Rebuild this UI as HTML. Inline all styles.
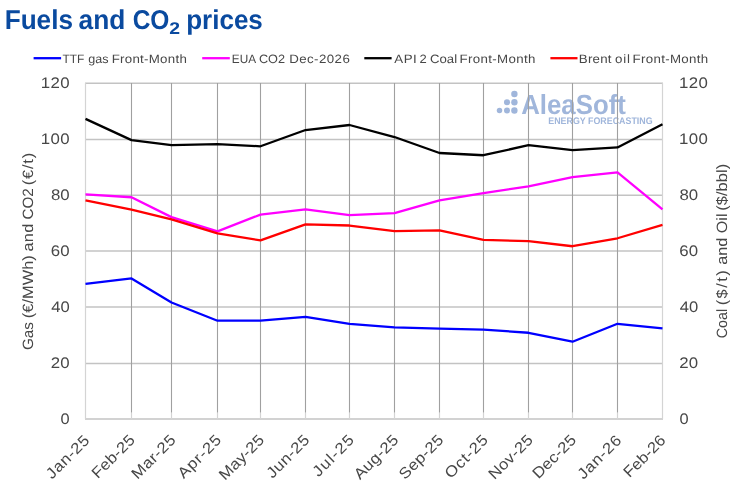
<!DOCTYPE html>
<html><head><meta charset="utf-8"><title>Fuels and CO2 prices</title>
<style>html,body{margin:0;padding:0;background:#fff}</style></head>
<body>
<svg width="730" height="491" viewBox="0 0 730 491" style="display:block;will-change:transform" text-rendering="geometricPrecision">
<rect width="730" height="491" fill="#fff"/>
<circle cx="514.4" cy="94.0" r="3.2" fill="#a0b6db"/>
<circle cx="507" cy="102.2" r="3.05" fill="#a0b6db"/>
<circle cx="514.4" cy="102.2" r="3.2" fill="#a0b6db"/>
<circle cx="499.5" cy="110.5" r="2.75" fill="#a0b6db"/>
<circle cx="507" cy="110.5" r="3.0" fill="#a0b6db"/>
<circle cx="514.4" cy="110.5" r="3.2" fill="#a0b6db"/>
<text transform="translate(521.20,114.40) scale(0.9346,1)" font-family="'Liberation Sans', sans-serif" font-weight="700" font-size="27.6" fill="#a0b6db">AleaSoft</text>
<text transform="translate(548.25,124.10) scale(0.9249,1)" font-family="'Liberation Sans', sans-serif" font-weight="700" font-size="9.6" fill="#a0b6db">ENERGY FORECASTING</text>
<line x1="85.0" x2="663.0" y1="419.10" y2="419.10" stroke="#c3c3c3" stroke-width="1.5"/>
<line x1="85.0" x2="663.0" y1="363.40" y2="363.40" stroke="#c3c3c3" stroke-width="1.5"/>
<line x1="85.0" x2="663.0" y1="307.05" y2="307.05" stroke="#c3c3c3" stroke-width="1.5"/>
<line x1="85.0" x2="663.0" y1="251.05" y2="251.05" stroke="#c3c3c3" stroke-width="1.5"/>
<line x1="85.0" x2="663.0" y1="195.30" y2="195.30" stroke="#c3c3c3" stroke-width="1.5"/>
<line x1="85.0" x2="663.0" y1="139.50" y2="139.50" stroke="#c3c3c3" stroke-width="1.5"/>
<line x1="85.0" x2="663.0" y1="83.30" y2="83.30" stroke="#c3c3c3" stroke-width="1.5"/>
<line x1="85.5" x2="85.5" y1="83.0" y2="419.0" stroke="#d4d4d4" stroke-width="1.2"/>
<line x1="131.5" x2="131.5" y1="83.0" y2="412.7" stroke="#a0a0a0" stroke-width="1.1"/>
<line x1="131.5" x2="131.5" y1="412.7" y2="419.0" stroke="#d4d4d4" stroke-width="1.2"/>
<line x1="171.5" x2="171.5" y1="83.0" y2="412.7" stroke="#a0a0a0" stroke-width="1.1"/>
<line x1="171.5" x2="171.5" y1="412.7" y2="419.0" stroke="#d4d4d4" stroke-width="1.2"/>
<line x1="217.5" x2="217.5" y1="83.0" y2="412.7" stroke="#a0a0a0" stroke-width="1.1"/>
<line x1="217.5" x2="217.5" y1="412.7" y2="419.0" stroke="#d4d4d4" stroke-width="1.2"/>
<line x1="260.5" x2="260.5" y1="83.0" y2="412.7" stroke="#a0a0a0" stroke-width="1.1"/>
<line x1="260.5" x2="260.5" y1="412.7" y2="419.0" stroke="#d4d4d4" stroke-width="1.2"/>
<line x1="305.5" x2="305.5" y1="83.0" y2="412.7" stroke="#a0a0a0" stroke-width="1.1"/>
<line x1="305.5" x2="305.5" y1="412.7" y2="419.0" stroke="#d4d4d4" stroke-width="1.2"/>
<line x1="349.5" x2="349.5" y1="83.0" y2="412.7" stroke="#a0a0a0" stroke-width="1.1"/>
<line x1="349.5" x2="349.5" y1="412.7" y2="419.0" stroke="#d4d4d4" stroke-width="1.2"/>
<line x1="394.5" x2="394.5" y1="83.0" y2="412.7" stroke="#a0a0a0" stroke-width="1.1"/>
<line x1="394.5" x2="394.5" y1="412.7" y2="419.0" stroke="#d4d4d4" stroke-width="1.2"/>
<line x1="439.5" x2="439.5" y1="83.0" y2="412.7" stroke="#a0a0a0" stroke-width="1.1"/>
<line x1="439.5" x2="439.5" y1="412.7" y2="419.0" stroke="#d4d4d4" stroke-width="1.2"/>
<line x1="483.5" x2="483.5" y1="83.0" y2="412.7" stroke="#a0a0a0" stroke-width="1.1"/>
<line x1="483.5" x2="483.5" y1="412.7" y2="419.0" stroke="#d4d4d4" stroke-width="1.2"/>
<line x1="528.5" x2="528.5" y1="83.0" y2="412.7" stroke="#a0a0a0" stroke-width="1.1"/>
<line x1="528.5" x2="528.5" y1="412.7" y2="419.0" stroke="#d4d4d4" stroke-width="1.2"/>
<line x1="572.5" x2="572.5" y1="83.0" y2="412.7" stroke="#a0a0a0" stroke-width="1.1"/>
<line x1="572.5" x2="572.5" y1="412.7" y2="419.0" stroke="#d4d4d4" stroke-width="1.2"/>
<line x1="617.5" x2="617.5" y1="83.0" y2="412.7" stroke="#a0a0a0" stroke-width="1.1"/>
<line x1="617.5" x2="617.5" y1="412.7" y2="419.0" stroke="#d4d4d4" stroke-width="1.2"/>
<line x1="662.5" x2="662.5" y1="83.0" y2="419.0" stroke="#d4d4d4" stroke-width="1.2"/>
<polyline points="85.50,283.90 131.50,278.44 171.50,302.52 217.50,320.72 260.50,320.72 305.50,316.80 349.50,323.80 394.50,327.44 439.50,328.70 483.50,329.54 528.50,332.76 572.50,341.72 617.50,323.80 662.50,328.42" fill="none" stroke="#0000ff" stroke-width="2.3" stroke-linejoin="round" stroke-linecap="butt"/>
<polyline points="85.50,194.44 131.50,197.24 171.50,217.12 217.50,231.40 260.50,214.60 305.50,209.28 349.50,215.16 394.50,213.20 439.50,200.32 483.50,193.04 528.50,186.32 572.50,177.08 617.50,172.32 662.50,209.28" fill="none" stroke="#ff00ff" stroke-width="2.3" stroke-linejoin="round" stroke-linecap="butt"/>
<polyline points="85.50,118.84 131.50,140.12 171.50,145.16 217.50,144.04 260.50,146.28 305.50,130.04 349.50,125.00 394.50,137.04 439.50,153.00 483.50,155.24 528.50,145.16 572.50,150.20 617.50,147.40 662.50,124.16" fill="none" stroke="#000000" stroke-width="2.3" stroke-linejoin="round" stroke-linecap="butt"/>
<polyline points="85.50,200.32 131.50,209.56 171.50,219.36 217.50,233.36 260.50,240.36 305.50,224.40 349.50,225.52 394.50,231.12 439.50,230.28 483.50,239.94 528.50,241.20 572.50,246.24 617.50,238.26 662.50,224.96" fill="none" stroke="#ff0000" stroke-width="2.3" stroke-linejoin="round" stroke-linecap="butt"/>
<text transform="translate(4.67,28.70) scale(0.9578,1)" font-family="'Liberation Sans', sans-serif" font-weight="700" font-size="27.3" fill="#0a4a9f">Fuels</text>
<text transform="translate(78.59,28.70) scale(0.9642,1)" font-family="'Liberation Sans', sans-serif" font-weight="700" font-size="27.3" fill="#0a4a9f">and</text>
<text transform="translate(132.63,28.70) scale(0.8974,1)" font-family="'Liberation Sans', sans-serif" font-weight="700" font-size="27.3" fill="#0a4a9f">CO</text>
<text transform="translate(186.17,28.70) scale(0.9533,1)" font-family="'Liberation Sans', sans-serif" font-weight="700" font-size="27.3" fill="#0a4a9f">prices</text>
<text transform="translate(169.29,33.90) scale(1.1412,1)" font-family="'Liberation Sans', sans-serif" font-weight="700" font-size="17.0" fill="#0a4a9f">2</text>
<line x1="33.6" x2="61.1" y1="58.2" y2="58.2" stroke="#0000ff" stroke-width="2.3"/>
<text transform="translate(62.41,62.60) scale(0.9866,1)" font-family="'Liberation Sans', sans-serif" font-weight="400" font-size="12.1" fill="#474747">TTF</text>
<text transform="translate(88.31,62.60) scale(1.0399,1)" font-family="'Liberation Sans', sans-serif" font-weight="400" font-size="12.1" fill="#474747">gas</text>
<text transform="translate(111.66,62.60) scale(1.1000,1)" font-family="'Liberation Sans', sans-serif" font-weight="400" font-size="12.1" fill="#474747" letter-spacing="0.245">Front-Month</text>
<line x1="202.2" x2="229.8" y1="58.2" y2="58.2" stroke="#ff00ff" stroke-width="2.3"/>
<text transform="translate(231.78,62.60) scale(0.9753,1)" font-family="'Liberation Sans', sans-serif" font-weight="400" font-size="12.1" fill="#474747">EUA</text>
<text transform="translate(258.90,62.60) scale(1.0495,1)" font-family="'Liberation Sans', sans-serif" font-weight="400" font-size="12.1" fill="#474747">CO2</text>
<text transform="translate(289.16,62.60) scale(1.1000,1)" font-family="'Liberation Sans', sans-serif" font-weight="400" font-size="12.1" fill="#474747" letter-spacing="0.385">Dec-2026</text>
<line x1="364.3" x2="391.6" y1="58.2" y2="58.2" stroke="#000000" stroke-width="2.3"/>
<text transform="translate(394.30,62.60) scale(1.1000,1)" font-family="'Liberation Sans', sans-serif" font-weight="400" font-size="12.1" fill="#474747" letter-spacing="0.431">API</text>
<text transform="translate(419.49,62.60) scale(1.0755,1)" font-family="'Liberation Sans', sans-serif" font-weight="400" font-size="12.1" fill="#474747">2</text>
<text transform="translate(429.98,62.60) scale(1.0884,1)" font-family="'Liberation Sans', sans-serif" font-weight="400" font-size="12.1" fill="#474747">Coal</text>
<text transform="translate(459.56,62.60) scale(1.1000,1)" font-family="'Liberation Sans', sans-serif" font-weight="400" font-size="12.1" fill="#474747" letter-spacing="0.309">Front-Month</text>
<line x1="550.4" x2="577.5" y1="58.2" y2="58.2" stroke="#ff0000" stroke-width="2.3"/>
<text transform="translate(578.86,62.60) scale(1.1000,1)" font-family="'Liberation Sans', sans-serif" font-weight="400" font-size="12.1" fill="#474747" letter-spacing="0.178">Brent</text>
<text transform="translate(614.98,62.60) scale(1.1000,1)" font-family="'Liberation Sans', sans-serif" font-weight="400" font-size="12.1" fill="#474747" letter-spacing="0.717">oil</text>
<text transform="translate(632.56,62.60) scale(1.1000,1)" font-family="'Liberation Sans', sans-serif" font-weight="400" font-size="12.1" fill="#474747" letter-spacing="0.291">Front-Month</text>
<text transform="translate(60.54,424.00) scale(1.0719,1)" font-family="'Liberation Sans', sans-serif" font-weight="400" font-size="15.3" fill="#474747">0</text>
<text transform="translate(679.49,424.00) scale(1.0719,1)" font-family="'Liberation Sans', sans-serif" font-weight="400" font-size="15.3" fill="#474747">0</text>
<text transform="translate(50.66,368.00) scale(1.1000,1)" font-family="'Liberation Sans', sans-serif" font-weight="400" font-size="15.3" fill="#474747" letter-spacing="0.262">20</text>
<text transform="translate(679.21,368.00) scale(1.1000,1)" font-family="'Liberation Sans', sans-serif" font-weight="400" font-size="15.3" fill="#474747" letter-spacing="0.262">20</text>
<text transform="translate(51.19,312.00) scale(1.0855,1)" font-family="'Liberation Sans', sans-serif" font-weight="400" font-size="15.3" fill="#474747">40</text>
<text transform="translate(679.74,312.00) scale(1.0855,1)" font-family="'Liberation Sans', sans-serif" font-weight="400" font-size="15.3" fill="#474747">40</text>
<text transform="translate(50.66,256.00) scale(1.1000,1)" font-family="'Liberation Sans', sans-serif" font-weight="400" font-size="15.3" fill="#474747" letter-spacing="0.262">60</text>
<text transform="translate(679.21,256.00) scale(1.1000,1)" font-family="'Liberation Sans', sans-serif" font-weight="400" font-size="15.3" fill="#474747" letter-spacing="0.262">60</text>
<text transform="translate(50.92,200.00) scale(1.1000,1)" font-family="'Liberation Sans', sans-serif" font-weight="400" font-size="15.3" fill="#474747" letter-spacing="0.023">80</text>
<text transform="translate(679.47,200.00) scale(1.1000,1)" font-family="'Liberation Sans', sans-serif" font-weight="400" font-size="15.3" fill="#474747" letter-spacing="0.023">80</text>
<text transform="translate(40.80,144.00) scale(1.1000,1)" font-family="'Liberation Sans', sans-serif" font-weight="400" font-size="15.3" fill="#474747" letter-spacing="0.359">100</text>
<text transform="translate(678.95,144.00) scale(1.1000,1)" font-family="'Liberation Sans', sans-serif" font-weight="400" font-size="15.3" fill="#474747" letter-spacing="0.359">100</text>
<text transform="translate(40.80,88.00) scale(1.1000,1)" font-family="'Liberation Sans', sans-serif" font-weight="400" font-size="15.3" fill="#474747" letter-spacing="0.359">120</text>
<text transform="translate(678.95,88.00) scale(1.1000,1)" font-family="'Liberation Sans', sans-serif" font-weight="400" font-size="15.3" fill="#474747" letter-spacing="0.359">120</text>
<text transform="translate(33.00,349.40) rotate(-90) translate(-0.71,0) scale(1.0206,1)" font-family="'Liberation Sans', sans-serif" font-weight="400" font-size="14.9" fill="#474747">Gas</text>
<text transform="translate(33.00,349.40) rotate(-90) translate(31.23,0) scale(1.1000,1)" font-family="'Liberation Sans', sans-serif" font-weight="400" font-size="14.9" fill="#474747" letter-spacing="0.029">(€/MWh)</text>
<text transform="translate(33.00,349.40) rotate(-90) translate(97.89,0) scale(1.1000,1)" font-family="'Liberation Sans', sans-serif" font-weight="400" font-size="14.9" fill="#474747" letter-spacing="0.221">and</text>
<text transform="translate(33.00,349.40) rotate(-90) translate(129.89,0) scale(1.0227,1)" font-family="'Liberation Sans', sans-serif" font-weight="400" font-size="14.9" fill="#474747">CO2</text>
<text transform="translate(33.00,349.40) rotate(-90) translate(164.03,0) scale(1.1000,1)" font-family="'Liberation Sans', sans-serif" font-weight="400" font-size="14.9" fill="#474747" letter-spacing="0.790">(€/t)</text>
<text transform="translate(727.30,337.50) rotate(-90) translate(-0.67,0) scale(0.9564,1)" font-family="'Liberation Sans', sans-serif" font-weight="400" font-size="14.9" fill="#474747">Coal</text>
<text transform="translate(727.30,337.50) rotate(-90) translate(32.13,0) scale(1.1000,1)" font-family="'Liberation Sans', sans-serif" font-weight="400" font-size="14.9" fill="#474747" letter-spacing="1.359">($/t)</text>
<text transform="translate(727.30,337.50) rotate(-90) translate(72.69,0) scale(1.0909,1)" font-family="'Liberation Sans', sans-serif" font-weight="400" font-size="14.9" fill="#474747">and</text>
<text transform="translate(727.30,337.50) rotate(-90) translate(104.35,0) scale(1.0769,1)" font-family="'Liberation Sans', sans-serif" font-weight="400" font-size="14.9" fill="#474747">Oil</text>
<text transform="translate(727.30,337.50) rotate(-90) translate(126.63,0) scale(1.1000,1)" font-family="'Liberation Sans', sans-serif" font-weight="400" font-size="14.9" fill="#474747" letter-spacing="0.085">($/bbl)</text>
<text transform="translate(89.94,441.75) rotate(-45) translate(-53.60,0) scale(1.1000,1)" font-family="'Liberation Sans', sans-serif" font-weight="400" font-size="15.3" fill="#474747" letter-spacing="0.514">Jan-25</text>
<text transform="translate(135.43,441.43) rotate(-45) translate(-53.44,0) scale(1.1000,1)" font-family="'Liberation Sans', sans-serif" font-weight="400" font-size="15.3" fill="#474747" letter-spacing="0.145">Feb-25</text>
<text transform="translate(176.13,441.43) rotate(-45) translate(-54.56,0) scale(1.1000,1)" font-family="'Liberation Sans', sans-serif" font-weight="400" font-size="15.3" fill="#474747" letter-spacing="0.352">Mar-25</text>
<text transform="translate(221.71,441.43) rotate(-45) translate(-53.52,0) scale(1.1000,1)" font-family="'Liberation Sans', sans-serif" font-weight="400" font-size="15.3" fill="#474747" letter-spacing="0.670">Apr-25</text>
<text transform="translate(264.55,441.43) rotate(-45) translate(-55.79,0) scale(1.1000,1)" font-family="'Liberation Sans', sans-serif" font-weight="400" font-size="15.3" fill="#474747" letter-spacing="0.063">May-25</text>
<text transform="translate(309.94,441.43) rotate(-45) translate(-53.06,0) scale(1.1000,1)" font-family="'Liberation Sans', sans-serif" font-weight="400" font-size="15.3" fill="#474747" letter-spacing="0.415">Jun-25</text>
<text transform="translate(354.45,441.43) rotate(-45) translate(-50.93,0) scale(1.1000,1)" font-family="'Liberation Sans', sans-serif" font-weight="400" font-size="15.3" fill="#474747" letter-spacing="1.050">Jul-25</text>
<text transform="translate(398.88,441.43) rotate(-45) translate(-55.06,0) scale(1.1000,1)" font-family="'Liberation Sans', sans-serif" font-weight="400" font-size="15.3" fill="#474747" letter-spacing="0.267">Aug-25</text>
<text transform="translate(443.88,441.43) rotate(-45) translate(-54.81,0) scale(1.1000,1)" font-family="'Liberation Sans', sans-serif" font-weight="400" font-size="15.3" fill="#474747" letter-spacing="0.223">Sep-25</text>
<text transform="translate(488.45,441.43) rotate(-45) translate(-53.36,0) scale(1.1000,1)" font-family="'Liberation Sans', sans-serif" font-weight="400" font-size="15.3" fill="#474747" letter-spacing="0.642">Oct-25</text>
<text transform="translate(533.33,441.43) rotate(-45) translate(-54.88,0) scale(1.1000,1)" font-family="'Liberation Sans', sans-serif" font-weight="400" font-size="15.3" fill="#474747" letter-spacing="0.238">Nov-25</text>
<text transform="translate(576.56,441.43) rotate(-45) translate(-53.88,0) scale(1.1000,1)" font-family="'Liberation Sans', sans-serif" font-weight="400" font-size="15.3" fill="#474747" letter-spacing="0.057">Dec-25</text>
<text transform="translate(621.77,441.75) rotate(-45) translate(-54.18,0) scale(1.1000,1)" font-family="'Liberation Sans', sans-serif" font-weight="400" font-size="15.3" fill="#474747" letter-spacing="0.619">Jan-26</text>
<text transform="translate(666.11,441.75) rotate(-45) translate(-51.78,0) scale(1.0819,1)" font-family="'Liberation Sans', sans-serif" font-weight="400" font-size="15.3" fill="#474747">Feb-26</text>
</svg>
</body></html>
